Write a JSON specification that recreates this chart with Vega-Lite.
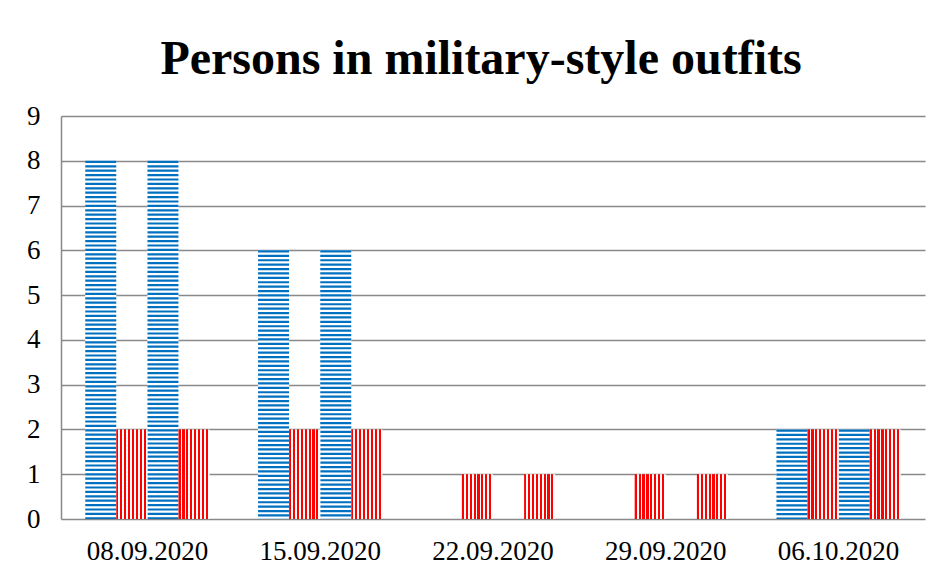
{
  "$schema": "https://vega.github.io/schema/vega-lite/v6.json",
  "width": 864,
  "height": 403,
  "autosize": "none",
  "padding": {"left": 61, "top": 116, "right": 17, "bottom": 56},
  "background": "white",
  "config": {"view": {"stroke": null}},
  "title": {
    "text": "Persons in military-style outfits",
    "font": "Liberation Serif",
    "fontSize": 48,
    "fontWeight": "bold",
    "color": "#000000",
    "anchor": "middle",
    "frame": "group",
    "baseline": "alphabetic",
    "offset": 42,
    "dx": -12,
    "dy": 62
  },
  "data": {
    "values": [
      {"date": "08.09.2020", "series": "Series 1", "kind": "blue", "value": 8},
      {"date": "08.09.2020", "series": "Series 2", "kind": "red", "value": 2},
      {"date": "08.09.2020", "series": "Series 3", "kind": "blue", "value": 8},
      {"date": "08.09.2020", "series": "Series 4", "kind": "red", "value": 2},
      {"date": "15.09.2020", "series": "Series 1", "kind": "blue", "value": 6},
      {"date": "15.09.2020", "series": "Series 2", "kind": "red", "value": 2},
      {"date": "15.09.2020", "series": "Series 3", "kind": "blue", "value": 6},
      {"date": "15.09.2020", "series": "Series 4", "kind": "red", "value": 2},
      {"date": "22.09.2020", "series": "Series 1", "kind": "blue", "value": 0},
      {"date": "22.09.2020", "series": "Series 2", "kind": "red", "value": 1},
      {"date": "22.09.2020", "series": "Series 3", "kind": "blue", "value": 0},
      {"date": "22.09.2020", "series": "Series 4", "kind": "red", "value": 1},
      {"date": "29.09.2020", "series": "Series 1", "kind": "blue", "value": 0},
      {"date": "29.09.2020", "series": "Series 2", "kind": "red", "value": 1},
      {"date": "29.09.2020", "series": "Series 3", "kind": "blue", "value": 0},
      {"date": "29.09.2020", "series": "Series 4", "kind": "red", "value": 1},
      {"date": "06.10.2020", "series": "Series 1", "kind": "blue", "value": 2},
      {"date": "06.10.2020", "series": "Series 2", "kind": "red", "value": 2},
      {"date": "06.10.2020", "series": "Series 3", "kind": "blue", "value": 2},
      {"date": "06.10.2020", "series": "Series 4", "kind": "red", "value": 2}
    ]
  },
  "encoding": {
    "x": {
      "field": "date",
      "type": "nominal",
      "scale": {
        "domain": ["08.09.2020", "15.09.2020", "22.09.2020", "29.09.2020", "06.10.2020"],
        "paddingInner": 0.28,
        "paddingOuter": 0.14
      },
      "axis": {
        "title": null,
        "labelAngle": 0,
        "ticks": false,
        "domain": false,
        "grid": false,
        "labelFont": "Liberation Serif",
        "labelFontSize": 27,
        "labelColor": "#000000",
        "labelPadding": 19
      }
    },
    "xOffset": {
      "field": "series",
      "type": "nominal",
      "scale": {
        "domain": ["Series 1", "Series 2", "Series 3", "Series 4"],
        "paddingInner": 0,
        "paddingOuter": 0
      }
    },
    "y": {
      "field": "value",
      "type": "quantitative",
      "scale": {"domain": [0, 9], "nice": false},
      "axis": {
        "title": null,
        "values": [0, 1, 2, 3, 4, 5, 6, 7, 8, 9],
        "grid": true,
        "gridColor": "#898989",
        "gridWidth": 1.5,
        "domain": true,
        "domainColor": "#898989",
        "domainWidth": 1.5,
        "ticks": false,
        "labelFont": "Liberation Serif",
        "labelFontSize": 27,
        "labelColor": "#000000",
        "labelPadding": 21
      }
    }
  },
  "layer": [
    {
      "transform": [{"filter": "datum.kind == 'blue'"}],
      "mark": {"type": "bar", "fill": "#ffffff", "stroke": null}
    },
    {
      "transform": [{"filter": "datum.kind == 'blue' && datum.value > 0"}],
      "mark": {
        "type": "rule",
        "stroke": "#0070C0",
        "strokeWidth": 31,
        "strokeDash": [2.2, 2.2],
        "strokeCap": "butt"
      },
      "encoding": {"y2": {"datum": 0}}
    },
    {
      "transform": [{"filter": "datum.kind == 'red'"}],
      "mark": {
        "type": "bar",
        "stroke": null,
        "fill": {
          "gradient": "linear",
          "x1": 0, "y1": 0, "x2": 1, "y2": 0,
          "stops": [
            {"offset": 0, "color": "#FF0000"},
            {"offset": 0.069, "color": "#FF0000"},
            {"offset": 0.069, "color": "#FFFFFF"},
            {"offset": 0.125, "color": "#FFFFFF"},
            {"offset": 0.125, "color": "#FF0000"},
            {"offset": 0.194, "color": "#FF0000"},
            {"offset": 0.194, "color": "#FFFFFF"},
            {"offset": 0.25, "color": "#FFFFFF"},
            {"offset": 0.25, "color": "#FF0000"},
            {"offset": 0.319, "color": "#FF0000"},
            {"offset": 0.319, "color": "#FFFFFF"},
            {"offset": 0.375, "color": "#FFFFFF"},
            {"offset": 0.375, "color": "#FF0000"},
            {"offset": 0.444, "color": "#FF0000"},
            {"offset": 0.444, "color": "#FFFFFF"},
            {"offset": 0.5, "color": "#FFFFFF"},
            {"offset": 0.5, "color": "#FF0000"},
            {"offset": 0.569, "color": "#FF0000"},
            {"offset": 0.569, "color": "#FFFFFF"},
            {"offset": 0.625, "color": "#FFFFFF"},
            {"offset": 0.625, "color": "#FF0000"},
            {"offset": 0.694, "color": "#FF0000"},
            {"offset": 0.694, "color": "#FFFFFF"},
            {"offset": 0.75, "color": "#FFFFFF"},
            {"offset": 0.75, "color": "#FF0000"},
            {"offset": 0.819, "color": "#FF0000"},
            {"offset": 0.819, "color": "#FFFFFF"},
            {"offset": 0.875, "color": "#FFFFFF"},
            {"offset": 0.875, "color": "#FF0000"},
            {"offset": 0.944, "color": "#FF0000"},
            {"offset": 0.944, "color": "#FFFFFF"},
            {"offset": 1, "color": "#FFFFFF"}
          ]
        }
      }
    }
  ]
}
